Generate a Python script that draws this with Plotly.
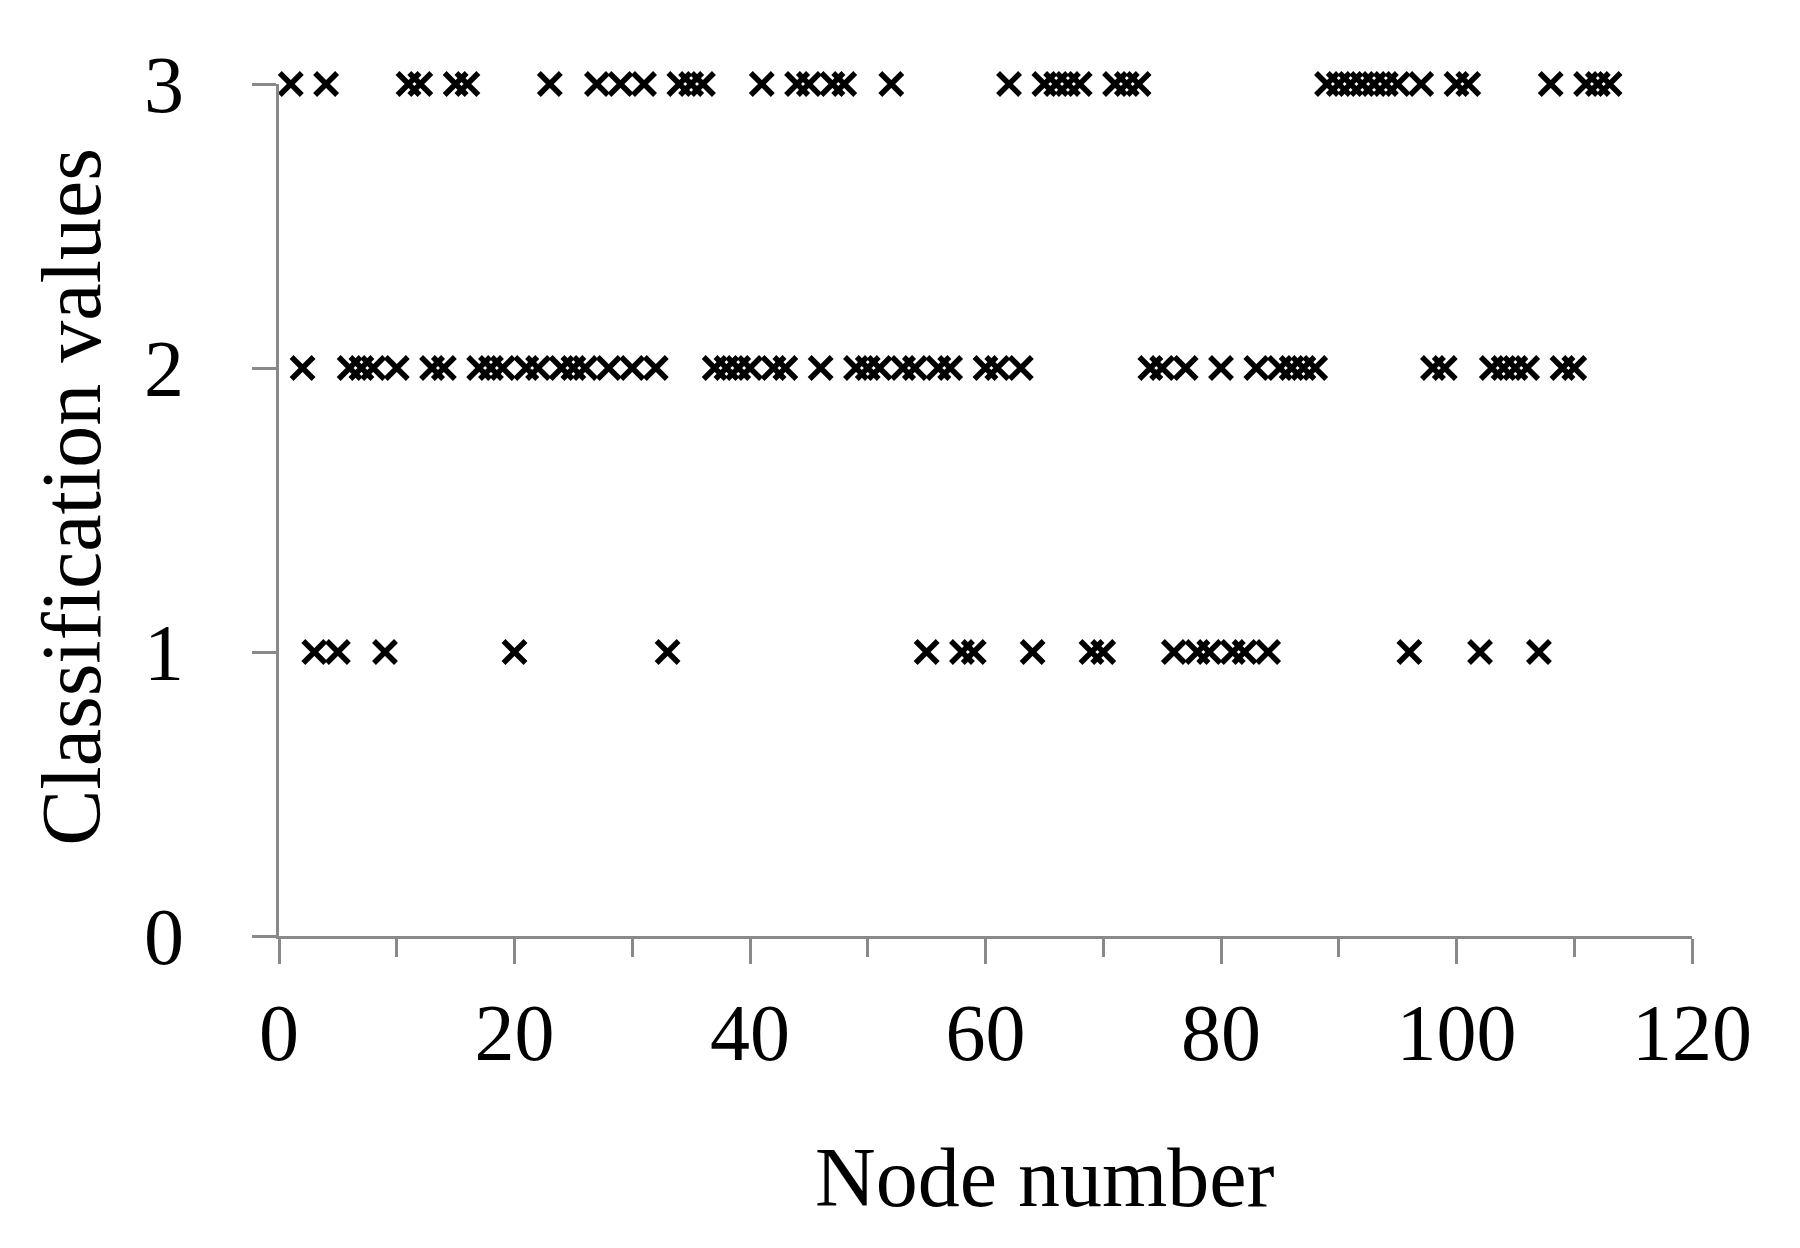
import plotly.graph_objects as go

# Node numbers grouped by classification value
nodes_class3 = [1, 4, 11, 12, 15, 16, 23, 27, 29, 31, 34, 35, 36, 41, 44, 45, 47, 48, 52,
                62, 65, 66, 67, 68, 71, 72, 73, 89, 90, 91, 92, 93, 94, 95, 97, 100, 101,
                108, 111, 112, 113]
nodes_class2 = [2, 6, 7, 8, 10, 13, 14, 17, 18, 19, 21, 22, 24, 25, 26, 28, 30, 32, 37, 38,
                39, 40, 42, 43, 46, 49, 50, 51, 53, 54, 56, 57, 60, 61, 63, 74, 75, 77, 80,
                83, 85, 86, 87, 88, 98, 99, 103, 104, 105, 106, 109, 110]
nodes_class1 = [3, 5, 9, 20, 33, 55, 58, 59, 64, 69, 70, 76, 78, 79, 81, 82, 84, 96, 102, 107]

x_ticks = [0, 20, 40, 60, 80, 100, 120]
y_ticks = [0, 1, 2, 3]
x_title = "Node number"
y_title = "Classification values"

# Build the point list
pairs = sorted([(n, 3) for n in nodes_class3] + [(n, 2) for n in nodes_class2] +
               [(n, 1) for n in nodes_class1])
xs = [p[0] for p in pairs]
ys = [p[1] for p in pairs]

FONT = "Liberation Serif, Times New Roman, serif"
AXIS_COLOR = "#898989"

fig = go.Figure()
fig.add_trace(go.Scatter(
    x=xs, y=ys, mode="markers",
    marker=dict(symbol="x-thin-open", size=22, color="black",
                line=dict(color="black", width=5.5)),
    cliponaxis=False, showlegend=False,
))

fig.update_layout(
    width=1784, height=1232,
    margin=dict(l=271, r=100, t=76, b=304),
    plot_bgcolor="white", paper_bgcolor="white",
    font=dict(family=FONT, color="black", size=80),
    showlegend=False,
    annotations=[
        dict(text=x_title, xref="paper", yref="paper", x=0.542, y=-0.283,
             xanchor="center", yanchor="middle", showarrow=False,
             font=dict(family=FONT, size=84, color="black")),
        dict(text=y_title, xref="paper", yref="paper", x=-0.147, y=0.516,
             xanchor="center", yanchor="middle", showarrow=False, textangle=-90,
             font=dict(family=FONT, size=84, color="black")),
    ],
)

fig.update_xaxes(
    range=[0, 120], tickvals=x_ticks, ticktext=[str(v) for v in x_ticks],
    showgrid=False, zeroline=False,
    showline=True, linecolor=AXIS_COLOR, linewidth=3,
    ticks="outside", ticklen=25, tickwidth=3, tickcolor=AXIS_COLOR,
    minor=dict(dtick=10, ticks="outside", ticklen=18, tickwidth=3, tickcolor=AXIS_COLOR),
    tickfont=dict(family=FONT, size=80, color="black"),
    ticklabelstandoff=0,
)
fig.update_yaxes(
    range=[0, 3], tickvals=y_ticks, ticktext=[str(v) for v in y_ticks],
    showgrid=False, zeroline=False,
    showline=True, linecolor=AXIS_COLOR, linewidth=3,
    ticks="outside", ticklen=24, tickwidth=3, tickcolor=AXIS_COLOR,
    tickfont=dict(family=FONT, size=80, color="black"),
    ticklabelstandoff=52,
)

fig.write_html("out.html")
